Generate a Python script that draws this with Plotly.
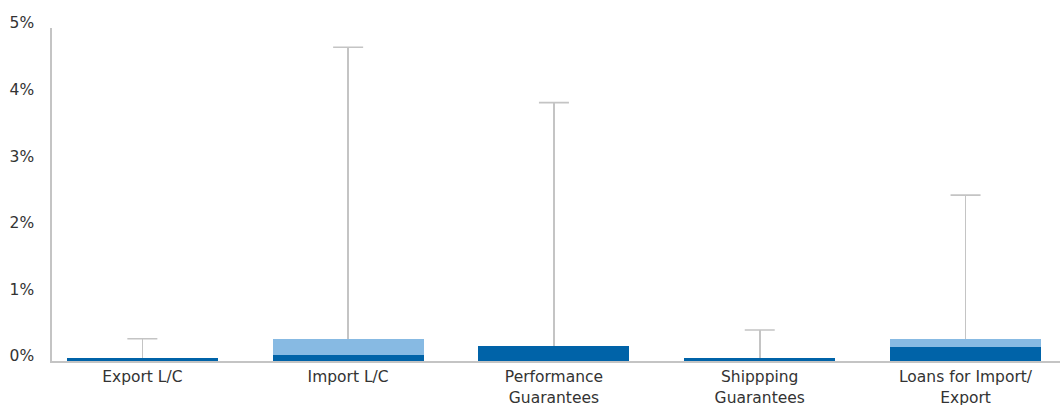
import plotly.graph_objects as go

# categories and values (percent)
categories = ["Export L/C", "Import L/C", "Performance<br>Guarantees",
              "Shippping<br>Guarantees", "Loans for Import/<br>Export"]
dark_vals = [0.05, 0.095, 0.225, 0.045, 0.215]
light_vals = [0.0, 0.235, 0.0, 0.0, 0.115]
upper_vals = [0.335, 4.71, 3.88, 0.465, 2.49]

tick_vals = [0, 1, 2, 3, 4, 5]
tick_text = ["0%", "1%", "2%", "3%", "4%", "5%"]

totals = [d + l for d, l in zip(dark_vals, light_vals)]
err_plus = [u - t for u, t in zip(upper_vals, totals)]

DARK = "#0063A8"
LIGHT = "#87BAE3"
GREY = "#C4C4C4"
FONT = "DejaVu Sans"

fig = go.Figure()
fig.add_trace(go.Bar(
    x=categories, y=dark_vals, marker=dict(color=DARK, line=dict(width=0)),
    width=0.734, hoverinfo="skip"))
# whisker line only (no caps) from top of stack
fig.add_trace(go.Bar(
    x=categories, y=light_vals, marker=dict(color=LIGHT, line=dict(width=0)),
    width=0.734, hoverinfo="skip",
    error_y=dict(type="data", symmetric=False, array=err_plus,
                 arrayminus=[0] * len(err_plus),
                 color=GREY, thickness=1.6, width=0)))
# top cap only
fig.add_trace(go.Scatter(
    x=categories, y=upper_vals, mode="markers",
    marker=dict(size=1, opacity=0), hoverinfo="skip",
    error_y=dict(type="data", array=[0] * len(upper_vals),
                 color=GREY, thickness=1.6, width=15)))

fig.update_layout(
    barmode="stack",
    width=1060, height=405,
    margin=dict(l=52, r=0, t=28, b=44),
    paper_bgcolor="white", plot_bgcolor="white",
    showlegend=False,
    font=dict(family=FONT, size=15.5, color="#333333"),
    xaxis=dict(
        type="category", range=[-0.439, 4.459], automargin=False,
        showline=True, linecolor=GREY, linewidth=1.5,
        showgrid=False, ticks="", ticklabelstandoff=1,
        tickfont=dict(family=FONT, size=15.5, color="#333333"),
    ),
    yaxis=dict(
        range=[0, 5], tickvals=tick_vals, ticktext=tick_text, automargin=False,
        showline=True, linecolor=GREY, linewidth=1.5,
        showgrid=False, zeroline=False, ticks="",
        ticklabelstandoff=13, ticklabelshift=-5,
        tickfont=dict(family=FONT, size=15.5, color="#333333"),
    ),
)

fig.write_html("out.html", config={"displayModeBar": False},
               post_script="document.body.style.margin='0';"
                           "document.body.style.overflow='hidden';")
